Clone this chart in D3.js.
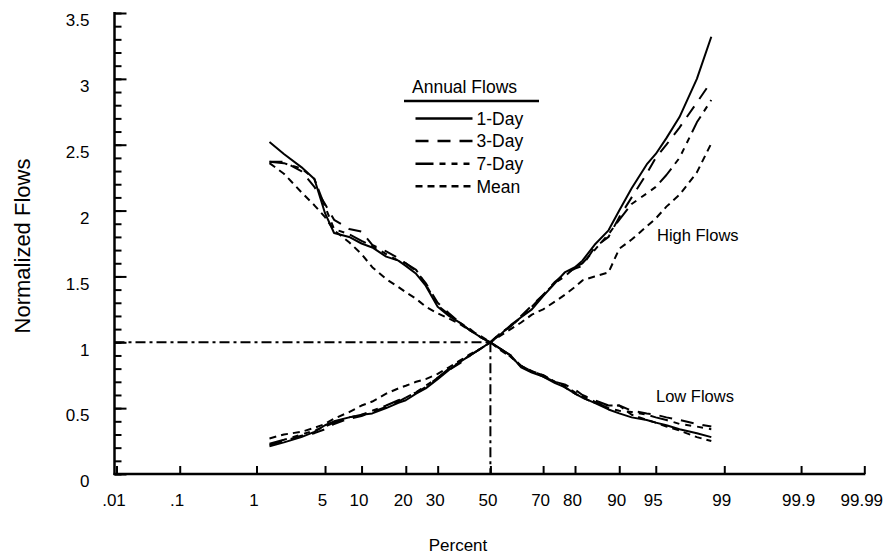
<!DOCTYPE html>
<html>
<head>
<meta charset="utf-8">
<script src="https://cdn.jsdelivr.net/npm/d3@7"></script>
<style>
  body { margin: 0; background: #fff; }
  svg { display: block; }
  text { font-family: "Liberation Sans", Arial, Helvetica, sans-serif; fill: #000; }
</style>
</head>
<body>
<svg id="chart" width="887" height="554"></svg>
<script>
// Exceedance percent positions shared by every curve
const percents = [1.4, 2, 3, 4, 5, 6, 8, 10, 12, 15, 18, 20, 23, 26, 30, 34, 38, 42, 46, 50,
                  54, 58, 62, 66, 70, 74, 77, 80, 82, 85, 88, 90, 92, 94, 95, 96, 97, 98, 98.6];

// High flows (normalized, rising with percent)
const highDay1 = [0.21,0.24,0.28,0.32,0.37,0.40,0.43,0.45,0.46,0.50,0.54,0.56,0.61,0.65,0.72,0.79,0.85,0.90,0.95,1.00,
                  1.06,1.13,1.19,1.25,1.35,1.45,1.53,1.57,1.62,1.74,1.85,2.00,2.17,2.35,2.43,2.55,2.71,3.00,3.32];
const highDay3 = [0.22,0.25,0.29,0.31,0.34,0.38,0.42,0.44,0.47,0.51,0.55,0.58,0.62,0.66,0.73,0.79,0.84,0.90,0.95,1.00,
                  1.07,1.12,1.20,1.28,1.36,1.46,1.52,1.56,1.58,1.72,1.80,1.95,2.10,2.28,2.40,2.50,2.63,2.82,2.98];
const highDay7 = [0.23,0.26,0.30,0.33,0.36,0.39,0.43,0.45,0.48,0.52,0.56,0.58,0.62,0.67,0.73,0.80,0.85,0.90,0.95,1.00,
                  1.07,1.12,1.19,1.27,1.36,1.45,1.50,1.57,1.60,1.70,1.82,1.93,2.05,2.13,2.18,2.27,2.40,2.67,2.84];
const highMean = [0.27,0.30,0.32,0.35,0.38,0.42,0.47,0.52,0.55,0.61,0.65,0.67,0.70,0.72,0.76,0.81,0.86,0.91,0.95,1.00,
                  1.05,1.10,1.15,1.21,1.25,1.31,1.36,1.42,1.47,1.50,1.53,1.71,1.78,1.88,1.94,2.03,2.12,2.29,2.51];

// Low flows (normalized, falling with percent)
const lowDay1 = [2.52,2.43,2.33,2.24,1.98,1.83,1.80,1.75,1.72,1.65,1.62,1.58,1.52,1.43,1.27,1.20,1.15,1.09,1.04,1.00,
                 0.95,0.90,0.81,0.77,0.74,0.69,0.66,0.61,0.58,0.54,0.49,0.46,0.43,0.41,0.39,0.37,0.34,0.31,0.28];
const lowDay3 = [2.37,2.37,2.30,2.18,2.05,1.93,1.86,1.84,1.74,1.69,1.64,1.60,1.54,1.45,1.30,1.22,1.15,1.09,1.04,1.00,
                 0.95,0.90,0.82,0.78,0.75,0.70,0.68,0.64,0.60,0.56,0.52,0.52,0.48,0.46,0.45,0.43,0.41,0.38,0.36];
const lowDay7 = [2.37,2.36,2.32,2.24,2.03,1.86,1.82,1.77,1.73,1.67,1.62,1.60,1.55,1.44,1.28,1.21,1.15,1.10,1.04,1.00,
                 0.95,0.89,0.82,0.78,0.74,0.70,0.67,0.62,0.59,0.55,0.50,0.48,0.47,0.45,0.43,0.41,0.38,0.36,0.34];
const lowMean = [2.36,2.28,2.14,2.04,1.95,1.85,1.76,1.67,1.57,1.48,1.42,1.38,1.33,1.27,1.22,1.18,1.14,1.09,1.05,1.00,
                 0.94,0.89,0.82,0.78,0.75,0.70,0.66,0.61,0.58,0.54,0.52,0.52,0.45,0.41,0.39,0.36,0.33,0.28,0.25];

// Axis ticks
const xTicks = [0.01, 0.1, 1, 5, 10, 20, 30, 50, 70, 80, 90, 95, 99, 99.9, 99.99];
const xTickLabels = [".01", ".1", "1", "5", "10", "20", "30", "50", "70", "80", "90", "95", "99", "99.9", "99.99"];
const yTicks = [0, 0.5, 1, 1.5, 2, 2.5, 3, 3.5];
const yTickLabels = ["0", "0.5", "1", "1.5", "2", "2.5", "3", "3.5"];
const yMinorTicks = d3.range(0, 36).map(i => i / 10);

const seriesNames = ["1-Day", "3-Day", "7-Day", "Mean"];
const seriesDash = [null, "13,9", "18,6,6,6,6,6,6,6", "7,5"];
const highSeries = [highDay1, highDay3, highDay7, highMean];
const lowSeries = [lowDay1, lowDay3, lowDay7, lowMean];

// Inverse standard normal CDF (Acklam) for the probability axis
function probit(p) {
  const a = [-3.969683028665376e+01, 2.209460984245205e+02, -2.759285104469687e+02, 1.383577518672690e+02, -3.066479806614716e+01, 2.506628277459239e+00];
  const b = [-5.447609879822406e+01, 1.615858368580409e+02, -1.556989798598866e+02, 6.680131188771972e+01, -1.328068155288572e+01];
  const c = [-7.784894002430293e-03, -3.223964580411365e-01, -2.400758277161838e+00, -2.549671324764622e+00, 4.374664141464968e+00, 2.938163982698783e+00];
  const d = [7.784695709041462e-03, 3.224671290700398e-01, 2.445134137142996e+00, 3.754408661907416e+00];
  const plow = 0.02425, phigh = 1 - plow;
  if (p < plow) {
    const q = Math.sqrt(-2 * Math.log(p));
    return (((((c[0]*q+c[1])*q+c[2])*q+c[3])*q+c[4])*q+c[5]) / ((((d[0]*q+d[1])*q+d[2])*q+d[3])*q+1);
  }
  if (p <= phigh) {
    const q = p - 0.5, r = q * q;
    return (((((a[0]*r+a[1])*r+a[2])*r+a[3])*r+a[4])*r+a[5])*q / (((((b[0]*r+b[1])*r+b[2])*r+b[3])*r+b[4])*r+1);
  }
  const q = Math.sqrt(-2 * Math.log(1 - p));
  return -(((((c[0]*q+c[1])*q+c[2])*q+c[3])*q+c[4])*q+c[5]) / ((((d[0]*q+d[1])*q+d[2])*q+d[3])*q+1);
}

const svg = d3.select("#chart");
const axisX0 = 114.5;     // position of the vertical axis line
const axisY0 = 474;       // position of the horizontal axis line

const zScale = d3.scaleLinear()
  .domain([probit(0.0001), probit(0.9999)])
  .range([116.5, 864.3]);
const x = pct => zScale(probit(pct / 100));
const y = d3.scaleLinear().domain([0, 3.5]).range([axisY0, 13]);

// Reference lines through the median
const refG = svg.append("g")
  .attr("fill", "none").attr("stroke", "#000").attr("stroke-width", 2)
  .attr("stroke-dasharray", "10,4,3,4");
refG.append("line")
  .attr("x1", axisX0).attr("x2", x(50))
  .attr("y1", y(1)).attr("y2", y(1));
refG.append("line")
  .attr("x1", x(50)).attr("x2", x(50))
  .attr("y1", y(1)).attr("y2", axisY0);

// Curves
const line = d3.line()
  .x((d, i) => x(percents[i]))
  .y(d => y(d));

const curveG = svg.append("g").attr("fill", "none").attr("stroke", "#000")
  .attr("stroke-width", 2).attr("stroke-linejoin", "round");
[lowSeries, highSeries].forEach(group => {
  group.forEach((vals, k) => {
    curveG.append("path")
      .attr("d", line(vals))
      .attr("stroke-dasharray", seriesDash[k]);
  });
});

// X axis (ticks point up into the plot)
const xAxis = d3.axisBottom(zScale)
  .tickValues(xTicks.map(p => probit(p / 100)))
  .tickFormat((d, i) => xTickLabels[i])
  .tickSizeInner(-8).tickSizeOuter(0).tickPadding(20);
const gx = svg.append("g").attr("transform", `translate(0,${axisY0})`).call(xAxis);
gx.select(".domain").remove();
gx.selectAll(".tick line").attr("stroke-width", 2);
gx.selectAll(".tick text")
  .attr("font-size", 17)
  .attr("font-family", "Liberation Sans, Arial, sans-serif")
  .attr("dx", -3);
svg.append("line")
  .attr("x1", axisX0 - 1).attr("x2", zScale.range()[1] + 1)
  .attr("y1", axisY0).attr("y2", axisY0)
  .attr("stroke", "#000").attr("stroke-width", 2.5);

// Y axis: minor ticks, then major ticks with labels
const yMinor = d3.axisLeft(y).tickValues(yMinorTicks).tickFormat("")
  .tickSizeInner(-7).tickSizeOuter(0);
const gyMinor = svg.append("g").attr("transform", `translate(${axisX0},0)`).call(yMinor);
gyMinor.select(".domain").remove();
gyMinor.selectAll(".tick line").attr("stroke-width", 2);

const yAxis = d3.axisLeft(y).tickValues(yTicks)
  .tickFormat((d, i) => yTickLabels[i])
  .tickSizeInner(-12).tickSizeOuter(0).tickPadding(25);
const gy = svg.append("g").attr("transform", `translate(${axisX0},0)`).call(yAxis);
gy.select(".domain").remove();
gy.selectAll(".tick line").attr("stroke-width", 2);
gy.selectAll(".tick text")
  .attr("font-size", 17)
  .attr("font-family", "Liberation Sans, Arial, sans-serif")
  .attr("dy", "0.75em");
svg.append("line")
  .attr("x1", axisX0).attr("x2", axisX0)
  .attr("y1", y(3.5) - 1).attr("y2", axisY0 + 1)
  .attr("stroke", "#000").attr("stroke-width", 2.5);

// Axis titles
svg.append("text")
  .attr("x", 458).attr("y", 551)
  .attr("text-anchor", "middle").attr("font-size", 17)
  .text("Percent");
svg.append("text")
  .attr("transform", "translate(30,246) rotate(-90)")
  .attr("text-anchor", "middle").attr("font-size", 22)
  .text("Normalized Flows");

// Curve group labels
svg.append("text").attr("x", 657).attr("y", 241).attr("font-size", 16.5).text("High Flows");
svg.append("text").attr("x", 656).attr("y", 402).attr("font-size", 16.5).text("Low Flows");

// Legend
const legend = svg.append("g");
legend.append("text").attr("x", 412).attr("y", 93).attr("font-size", 17.5).text("Annual Flows");
legend.append("line")
  .attr("x1", 404).attr("x2", 539).attr("y1", 101).attr("y2", 101)
  .attr("stroke", "#000").attr("stroke-width", 2.5);
seriesNames.forEach((name, k) => {
  const ly = 118.5 + k * 22.6;
  legend.append("line")
    .attr("x1", 415.5).attr("x2", 472.5).attr("y1", ly).attr("y2", ly)
    .attr("stroke", "#000").attr("stroke-width", 2.5)
    .attr("stroke-dasharray", seriesDash[k]);
  legend.append("text")
    .attr("x", 476.5).attr("y", ly).attr("dy", "0.36em")
    .attr("font-size", 17.5).text(name);
});
</script>
</body>
</html>
